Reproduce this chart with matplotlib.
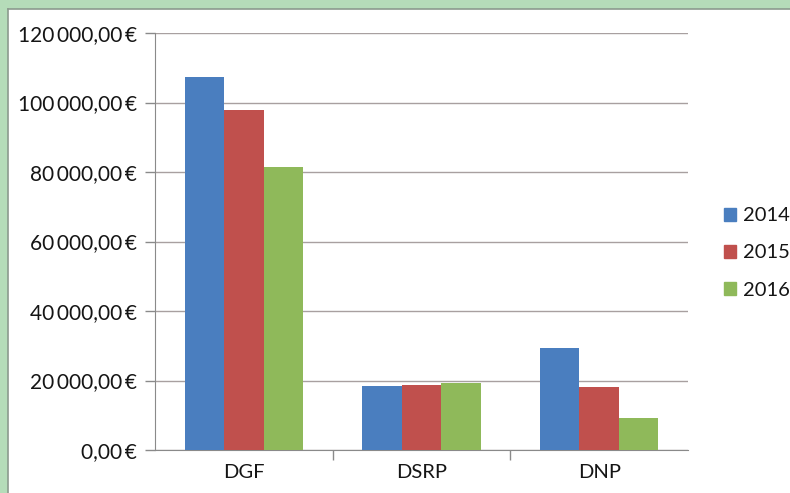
import matplotlib
matplotlib.use("Agg")
import matplotlib.pyplot as plt
import matplotlib.patches as mpatches
from matplotlib.ticker import FuncFormatter, FixedLocator
import numpy as np

categories = ["DGF", "DSRP", "DNP"]
years = ["2014", "2015", "2016"]
values = {
    "2014": [107300, 18400, 29300],
    "2015": [97800, 18700, 18000],
    "2016": [81400, 19400, 9300],
}
colors = ["#4a7ebf", "#c0504d", "#8fb95a"]
y_ticks = [0, 20000, 40000, 60000, 80000, 100000, 120000]

plt.rcParams["font.family"] = ["Lato", "DejaVu Sans"]

W, H = 790, 493
fig = plt.figure(figsize=(W / 100, H / 100), dpi=100)
fig.patch.set_facecolor("#b5dcb9")

# white inner panel with grey edge on top/left
bg = fig.add_axes([8 / W, -0.01, 1, 1.01 - 9 / H], zorder=-10)
bg.set_facecolor("white")
bg.set_xticks([])
bg.set_yticks([])
for s in bg.spines.values():
    s.set_color("#8c9a8e")
    s.set_linewidth(1.2)

ax = fig.add_axes([155 / W, 1 - 450 / H, (688 - 155) / W, (450 - 33) / H])
ax.set_facecolor("none")

x = np.arange(len(categories))
bw = 0.222
for i, yr in enumerate(years):
    ax.bar(x + (i - 1) * bw, values[yr], width=bw, color=colors[i],
           label=yr, zorder=3)

ax.set_xlim(-0.5, len(categories) - 0.5)
ax.set_ylim(0, 120000)
ax.yaxis.set_major_locator(FixedLocator(y_ticks))


def euro(v, pos):
    s = f"{v:,.2f}".replace(",", "\u2009").replace(".", ",")
    return s + "\u2009€"


ax.yaxis.set_major_formatter(FuncFormatter(euro))
ax.grid(axis="y", color="#a8a0a0", linewidth=1.0, zorder=1)

ax.set_xticks(x)
ax.set_xticklabels(categories)
ax.set_xticks([0.5, 1.5], minor=True)
ax.tick_params(axis="x", which="major", length=0, labelsize=14.5, pad=10,
               colors="#151515")
ax.tick_params(axis="x", which="minor", length=7, color="#8a8a8a", width=1)
ax.tick_params(axis="y", length=7, width=1, labelsize=15, pad=6,
               labelcolor="#151515", color="#8a8a8a")

for side in ["top", "right"]:
    ax.spines[side].set_visible(False)
ax.spines["left"].set_color("#8a8a8a")
ax.spines["bottom"].set_color("#8a8a8a")

handles = [mpatches.Patch(color=c) for c in colors]
fig.legend(handles, years, loc="center left",
           bbox_to_anchor=(706 / W, 1 - 253 / H), frameon=False,
           fontsize=14.5, handlelength=0.6, handleheight=0.6,
           handletextpad=0.35, labelspacing=1.0, labelcolor="#151515")

fig.savefig("out.png", dpi=100, facecolor=fig.get_facecolor())
